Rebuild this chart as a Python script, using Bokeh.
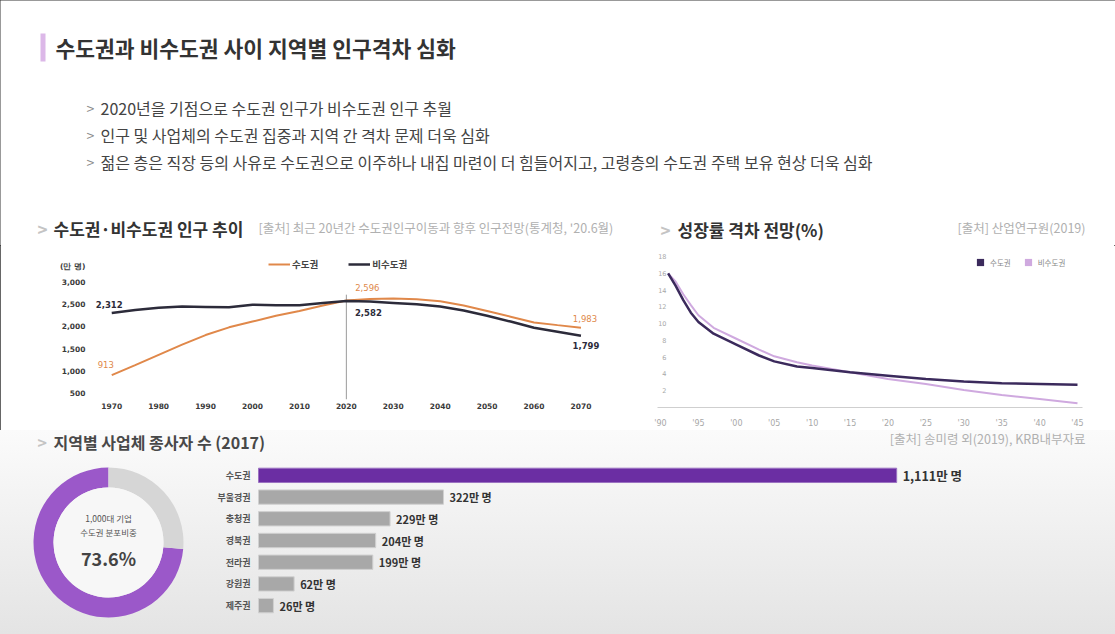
import math
from bokeh.plotting import figure
from bokeh.models import (Range1d, Label, BoxAnnotation, FixedTicker, Legend, LegendItem,
                          ColumnDataSource, FactorRange, NumeralTickFormatter)
from bokeh.layouts import column, row
from bokeh.core.properties import value
from bokeh.embed import file_html
from bokeh.resources import INLINE

KR = "Noto Sans CJK KR"
NUM = "DejaVu Sans"

# ---------------- data ----------------
title_text = "수도권과 비수도권 사이 지역별 인구격차 심화"
bullets = [
    "2020년을 기점으로 수도권 인구가 비수도권 인구 추월",
    "인구 및 사업체의 수도권 집중과 지역 간 격차 문제 더욱 심화",
    "젊은 층은 직장 등의 사유로 수도권으로 이주하나 내집 마련이 더 힘들어지고, 고령층의 수도권 주택 보유 현상 더욱 심화",
]

pop_title = "수도권·비수도권 인구 추이"
pop_source = "[출처] 최근 20년간 수도권인구이동과 향후 인구전망(통계청, '20.6월)"
pop_unit = "(만 명)"
pop_series_names = ["수도권", "비수도권"]
pop_years = [1970, 1975, 1980, 1985, 1990, 1995, 2000, 2005, 2010, 2015, 2020,
             2025, 2030, 2035, 2040, 2045, 2050, 2055, 2060, 2065, 2070]
pop_capital = [913, 1140, 1370, 1600, 1816, 1990, 2121, 2250, 2357, 2480, 2596,
               2630, 2640, 2620, 2580, 2480, 2360, 2230, 2100, 2040, 1983]
pop_noncapital = [2312, 2380, 2430, 2460, 2450, 2440, 2500, 2490, 2490, 2540, 2582,
                  2570, 2540, 2510, 2460, 2370, 2250, 2120, 1980, 1890, 1799]
pop_cross_year = 2020
pop_xticks = [1970, 1980, 1990, 2000, 2010, 2020, 2030, 2040, 2050, 2060, 2070]
pop_yticks = [500, 1000, 1500, 2000, 2500, 3000]

gr_title = "성장률 격차 전망(%)"
gr_source = "[출처] 산업연구원(2019)"
gr_source2 = "[출처] 송미령 외(2019), KRB내부자료"
gr_series_names = ["수도권", "비수도권"]
gr_years = [1991, 1992, 1993, 1994, 1995, 1997, 2000, 2003, 2005, 2008, 2010,
            2015, 2020, 2025, 2030, 2035, 2040, 2045]
gr_capital = [16.0, 14.5, 12.8, 11.3, 10.2, 8.8, 7.5, 6.2, 5.5, 4.9, 4.7,
              4.2, 3.8, 3.4, 3.1, 2.9, 2.8, 2.7]
gr_noncapital = [16.0, 15.0, 13.5, 12.2, 11.0, 9.5, 8.2, 6.9, 6.1, 5.4, 5.0,
                 4.2, 3.4, 2.8, 2.1, 1.5, 1.0, 0.5]
gr_xticks = [1990, 1995, 2000, 2005, 2010, 2015, 2020, 2025, 2030, 2035, 2040, 2045]
gr_xlabels = ["'90", "'95", "'00", "'05", "'10", "'15", "'20", "'25", "'30", "'35", "'40", "'45"]
gr_yticks = [2, 4, 6, 8, 10, 12, 14, 16, 18]

emp_title = "지역별 사업체 종사자 수 (2017)"
emp_regions = ["수도권", "부울경권", "충청권", "경북권", "전라권", "강원권", "제주권"]
emp_workers = [1111, 322, 229, 204, 199, 62, 26]
emp_unit = "만 명"

donut_share = 73.6
donut_lines = ["1,000대 기업", "수도권 분포비중"]

# ---------------- styles ----------------
ORANGE = "#e0884a"
DARK = "#2c2b3a"
GR_DARK = "#3b2a5c"
GR_LIGHT = "#cfa9df"
PURPLE = "#6b2ea3"
GRAY_BAR = "#a8a8a8"


def blank(width, height, xr, yr, transparent=False):
    f = figure(width=width, height=height, x_range=xr, y_range=yr,
               output_backend="svg", toolbar_location=None,
               x_axis_location=None, y_axis_location=None,
               min_border=0, min_border_left=0, min_border_right=0,
               min_border_top=0, min_border_bottom=0, frame_align=False)
    f.grid.visible = False
    f.outline_line_color = None
    if transparent:
        f.background_fill_alpha = 0
        f.border_fill_alpha = 0
    return f


def lab(f, x, y, text, size, color="#444", bold=False, align="left", font=KR):
    f.add_layout(Label(x=x, y=y, text=text, text_font=font, text_font_size=size,
                       text_font_style="bold" if bold else "normal", text_color=color,
                       text_align=align, text_baseline="middle"))


# ---------------- header (title, bullets, section headings) ----------------
hdr = blank(1115, 245, Range1d(0, 1115), Range1d(245, 0))
hdr.add_layout(BoxAnnotation(left=40, right=45, top=33, bottom=61,
                             fill_color="#dcb8e8", fill_alpha=1, line_color=None))
lab(hdr, 55, 47, title_text, "21.5px", "#333", bold=True)
for i, b in enumerate(bullets):
    yb = 107 + i * 27
    lab(hdr, 86, yb, ">", "14px", "#888")
    lab(hdr, 100, yb, b, "16px", "#444")

lab(hdr, 37, 228, ">", "17px", "#c4c4c4", bold=True)
lab(hdr, 53, 228, pop_title, "17px", "#333", bold=True)
lab(hdr, 258, 227, pop_source, "12.5px", "#b0b0b0")
lab(hdr, 660, 229, ">", "17px", "#c4c4c4", bold=True)
lab(hdr, 677, 229, gr_title, "17px", "#333", bold=True)
lab(hdr, 1085, 227, gr_source, "12.5px", "#b0b0b0", align="right")

# ---------------- population line chart ----------------
lc = figure(width=640, height=185, x_range=Range1d(1965.9, 2078), y_range=Range1d(365, 3608),
            output_backend="svg", toolbar_location=None, frame_align=False,
            min_border_left=92, min_border_right=22, min_border_top=10, min_border_bottom=31)
lc.grid.visible = False
lc.outline_line_color = None
for ax in (lc.xaxis[0], lc.yaxis[0]):
    ax.axis_line_color = None
    ax.major_tick_line_color = None
    ax.minor_tick_line_color = None
    ax.major_label_text_font = NUM
    ax.major_label_text_font_style = "bold"
    ax.major_label_text_color = "#3a3a3a"
# the unit caption sits on the value axis, just above the top tick
unit_pos = pop_yticks[-1] + 360
lc.xaxis.ticker = FixedTicker(ticks=pop_xticks)
lc.yaxis.ticker = FixedTicker(ticks=pop_yticks + [unit_pos])
lc.yaxis.formatter = NumeralTickFormatter(format="0,0")
lc.yaxis.major_label_overrides = {unit_pos: pop_unit}
lc.xaxis.major_label_text_font_size = "7.5px"
lc.yaxis.major_label_text_font_size = "7.5px"
lc.xaxis.major_label_standoff = -3
lc.yaxis.major_label_standoff = 1

ix = pop_years.index(pop_cross_year)
lc.segment(x0=[pop_years[ix]], y0=[lc.y_range.start], x1=[pop_years[ix]], y1=[pop_capital[ix] + 130],
           line_color="#9a9a9a", line_width=1)
r_cap = lc.line(pop_years, pop_capital, line_color=ORANGE, line_width=2)
r_non = lc.line(pop_years, pop_noncapital, line_color=DARK, line_width=2.5)

leg = Legend(items=[LegendItem(label=pop_series_names[0], renderers=[r_cap]),
                    LegendItem(label=pop_series_names[1], renderers=[r_non])],
             orientation="horizontal", location=(176, 128), padding=0, margin=0,
             spacing=30, glyph_width=22, glyph_height=10, label_height=10, label_standoff=2,
             label_text_font=KR, label_text_font_size="9.5px", label_text_font_style="bold",
             label_text_color="#444", border_line_color=None, background_fill_alpha=0)
lc.add_layout(leg)


def ptxt(f, x, y, t, color, bold, xo, yo, align="center", size="8.5px"):
    f.text(x=[x], y=[y], text=[t], x_offset=xo, y_offset=yo, text_align=align,
           text_baseline="middle", text_font=value(NUM), text_font_size=size,
           text_font_style="bold" if bold else "normal", text_color=color)


ptxt(lc, pop_years[0], pop_capital[0], f"{pop_capital[0]:,}", ORANGE, False, -6, -11)
ptxt(lc, pop_years[0], pop_noncapital[0], f"{pop_noncapital[0]:,}", DARK, True, -16, -9, align="left")
ptxt(lc, pop_years[ix], pop_capital[ix], f"{pop_capital[ix]:,}", ORANGE, False, 21, -13)
ptxt(lc, pop_years[ix], pop_noncapital[ix], f"{pop_noncapital[ix]:,}", DARK, True, 22, 11)
ptxt(lc, pop_years[-1], pop_capital[-1], f"{pop_capital[-1]:,}", ORANGE, False, 4, -9)
ptxt(lc, pop_years[-1], pop_noncapital[-1], f"{pop_noncapital[-1]:,}", DARK, True, 5, 10)

# ---------------- growth chart ----------------
rc = figure(width=475, height=185, x_range=Range1d(1989.6, 2045.66), y_range=Range1d(0, 18.72),
            output_backend="svg", toolbar_location=None, frame_align=False,
            min_border_left=17, min_border_right=33, min_border_top=5, min_border_bottom=19)
rc.grid.visible = False
rc.outline_line_color = None
rc.xaxis.ticker = FixedTicker(ticks=gr_xticks)
rc.xaxis.major_label_overrides = {t: l for t, l in zip(gr_xticks, gr_xlabels)}
rc.yaxis.ticker = FixedTicker(ticks=gr_yticks)
rc.xaxis.axis_line_color = "#cfcfcf"
rc.yaxis.axis_line_color = None
for ax in (rc.xaxis[0], rc.yaxis[0]):
    ax.major_tick_line_color = None
    ax.minor_tick_line_color = None
    ax.major_label_text_font = NUM
    ax.major_label_text_color = "#a8a8a8"
rc.xaxis.major_label_text_font_size = "8px"
rc.yaxis.major_label_text_font_size = "6.5px"
rc.xaxis.major_label_standoff = 5
rc.yaxis.major_label_standoff = -15

rc.line(gr_years, gr_noncapital, line_color=GR_LIGHT, line_width=2)
rc.line(gr_years, gr_capital, line_color=GR_DARK, line_width=2.5)
m_cap = rc.scatter(gr_years, gr_capital, size=0, marker="square", fill_color=GR_DARK, line_color=None)
m_non = rc.scatter(gr_years, gr_noncapital, size=0, marker="square", fill_color=GR_LIGHT, line_color=None)
leg2 = Legend(items=[LegendItem(label=gr_series_names[0], renderers=[m_cap]),
                     LegendItem(label=gr_series_names[1], renderers=[m_non])],
              orientation="horizontal", location=(314, 136), padding=0, margin=0,
              spacing=8, glyph_width=18, glyph_height=18, label_height=18, label_standoff=1,
              label_text_font=KR, label_text_font_size="7.5px",
              label_text_color="#888", border_line_color=None, background_fill_alpha=0)
rc.add_layout(leg2)

# ---------------- bottom heading ----------------
bh = blank(1115, 22, Range1d(0, 1115), Range1d(452, 430), transparent=True)
lab(bh, 37, 441, ">", "16px", "#c4c4c4", bold=True)
lab(bh, 53, 441, emp_title, "16px", "#484848", bold=True)
lab(bh, 1085, 438, gr_source2, "12.5px", "#b0b0b0", align="right")

# ---------------- donut ----------------
dn = blank(200, 182, Range1d(0, 200), Range1d(0, 182), transparent=True)
a0 = math.pi / 2
a1 = a0 + donut_share / 100 * 2 * math.pi
dn.annular_wedge(x=[108], y=[92], inner_radius=55, outer_radius=75,
                 start_angle=[a0], end_angle=[a1], direction="anticlock",
                 fill_color="#9b58c9", line_color=None)
dn.annular_wedge(x=[108], y=[92], inner_radius=55, outer_radius=75,
                 start_angle=[a1], end_angle=[a0 + 2 * math.pi], direction="anticlock",
                 fill_color="#d6d6d6", line_color=None)
dn.circle(x=[108], y=[92], radius=55, fill_color="#f7f7f7", line_color=None)
lab(dn, 108, 117, donut_lines[0], "8.5px", "#555", align="center")
lab(dn, 108, 103, donut_lines[1], "8.5px", "#555", align="center")
lab(dn, 108, 77, f"{donut_share:.1f}%", "18px", "#444", bold=True, align="center")

# ---------------- bars ----------------
bf = figure(width=915, height=182, x_range=Range1d(-101, 1492),
            y_range=FactorRange(factors=emp_regions[::-1], range_padding=0.158),
            output_backend="svg", toolbar_location=None, frame_align=False,
            x_axis_location=None, y_axis_location=None,
            min_border_left=0, min_border_right=0, min_border_top=0, min_border_bottom=6)
bf.grid.visible = False
bf.outline_line_color = None
bf.background_fill_alpha = 0
bf.border_fill_alpha = 0
src = ColumnDataSource(dict(
    region=emp_regions, workers=emp_workers,
    label=[f"{w:,}{emp_unit}" for w in emp_workers],
    fill=[PURPLE if i == 0 else GRAY_BAR for i in range(len(emp_regions))],
    edge=["#9b72c2" if i == 0 else "#d0d0d0" for i in range(len(emp_regions))],
    fsize=["12.5px" if i == 0 else "11px" for i in range(len(emp_regions))],
    zero=[0] * len(emp_regions),
))
bf.hbar(y="region", left=0, right="workers", height=0.66, fill_color="fill",
        line_color="edge", line_width=1, source=src)
bf.text(x="zero", y="region", text="region", x_offset=-8, text_align="right",
        text_baseline="middle", text_font=value(KR), text_font_size="9px",
        text_font_style="bold", text_color="#555", source=src)
bf.text(x="workers", y="region", text="label", x_offset=6, text_align="left",
        text_baseline="middle", text_font=value(KR), text_font_size="fsize",
        text_font_style="bold", text_color="#333", source=src)

# ---------------- layout ----------------
mid = row(lc, rc, spacing=0)
bottom = column(bh, row(dn, bf, spacing=0), spacing=0,
                styles={"background": "linear-gradient(180deg, #fbfbfb 0%, #e4e4e4 100%)"})
page = column(hdr, mid, bottom, spacing=0,
              styles={"outline": "1px solid #333", "outline-offset": "-1px"})

open("out.html", "w").write(file_html(page, INLINE))
